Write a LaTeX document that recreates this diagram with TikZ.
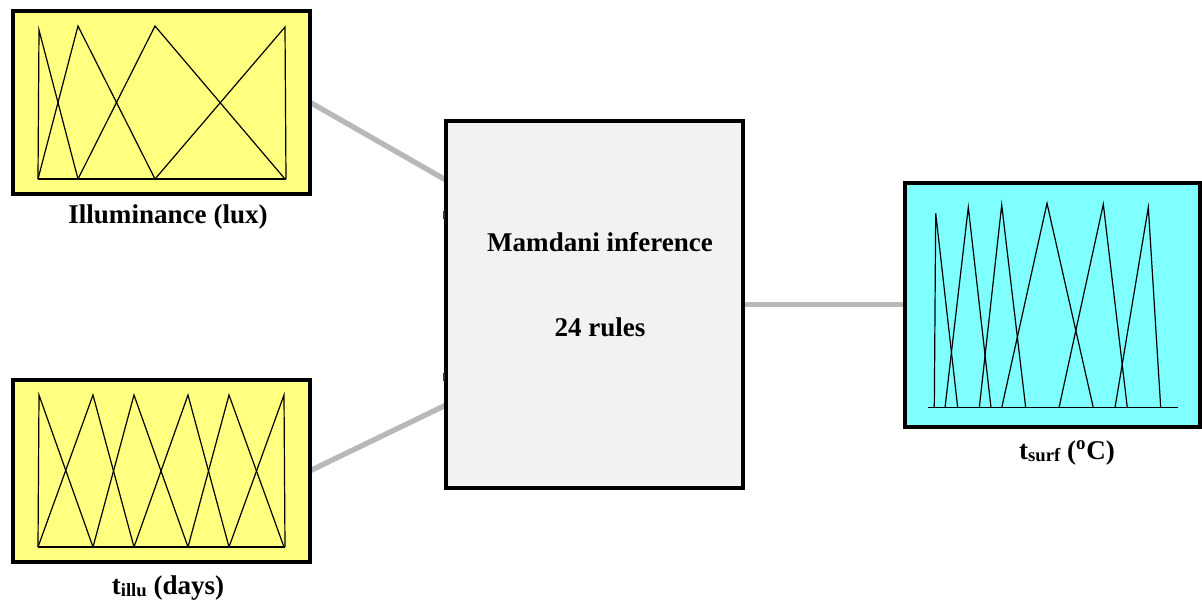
\documentclass[tikz,border=0pt]{standalone}
\usepackage{fontspec}
\setmainfont{Liberation Serif}
\usetikzlibrary{calc,backgrounds}
\definecolor{fillyellow}{HTML}{FFFF80}
\definecolor{fillcyan}{HTML}{80FFFF}
\definecolor{fillgray}{HTML}{F2F2F2}
\definecolor{linkgray}{HTML}{B8B8B8}
\begin{document}
\begin{tikzpicture}[x=0.75pt,y=-0.75pt,
  box/.style={draw=black,line width=3pt,inner sep=0pt,outer sep=0pt},
  mf/.style={line width=0.9pt,line join=miter},
  link/.style={draw=linkgray,line width=4pt},
  port/.style={line width=1.5pt,draw=black!80},
  lab/.style={font=\fontsize{20.3}{24}\selectfont\bfseries,inner sep=0pt}]
\useasboundingbox (0,0) rectangle (1202,604);

% boxes
\node[box,fill=fillyellow,minimum width=222.75pt,minimum height=137.25pt] (illum) at (161,102) {};
\node[box,fill=fillyellow,minimum width=222.75pt,minimum height=136.5pt] (tillu) at (161,471) {};
\node[box,fill=fillgray,minimum width=222.75pt,minimum height=275.25pt] (mam) at (594.5,304.5) {};
\node[box,fill=fillcyan,minimum width=221.25pt,minimum height=183pt] (tsurf) at (1052.5,304.5) {};

% texts
\node[lab] (t1) at (600,242) {Mamdani inference};
\node[lab] (t2) at (600,327) {24 rules};
\node[lab] (lab1) at (168,217) {Illuminance (lux)};
\node[lab] (lab2) at (168,588) {t\raisebox{-1.5pt}{\fontsize{14}{14}\selectfont illu} (days)};
\node[lab] (lab3) at (1067,453) {t\raisebox{-1.5pt}{\fontsize{14}{14}\selectfont surf} (\textsuperscript{o}C)};

% connectors
\coordinate (in1) at ($(mam.north west)!0.161!(mam.south west)$);
\coordinate (in2) at ($(mam.north west)!0.774!(mam.south west)$);
\begin{scope}[on background layer]
\draw[link] (illum.east) -- (in1);
\draw[link] (tillu.east) -- (in2);
\draw[link] (mam.east) -- (tsurf.west);
\end{scope}

% port stubs
\coordinate (p1) at ($(mam.north west)!0.256!(mam.south west)$);
\coordinate (p2) at ($(mam.north west)!0.698!(mam.south west)$);
\draw[port] ($(p1)+(-2.5,-4)$) -- ($(p1)+(-2.5,4)$);
\draw[port] ($(p2)+(-2.5,-4)$) -- ($(p2)+(-2.5,4)$);

% membership functions: Illuminance
\draw[mf] (38,179) -- (286,179);
\draw[mf] (38,179) -- (39,30) -- (78,179);
\draw[mf] (38,179) -- (78,26) -- (155,179);
\draw[mf] (78,179) -- (155,26) -- (285,179);
\draw[mf] (155,179) -- (285,27) -- (286,179);

% membership functions: t_illu
\draw[mf] (38,547) -- (285,547);
\draw[mf] (38,547) -- (39,395) -- (93,547);
\draw[mf] (38,547) -- (93,395) -- (134,547);
\draw[mf] (93,547) -- (134,395) -- (188,547);
\draw[mf] (134,547) -- (188,395) -- (229,547);
\draw[mf] (188,547) -- (229,395) -- (284,547);
\draw[mf] (229,547) -- (284,395) -- (285,547);

% membership functions: t_surf
\draw[mf] (928.3,407.7) -- (1177.7,407.7);
\draw[mf] (934.3,407.7) -- (935.7,213.3) -- (957.7,407.7);
\draw[mf] (945,407.7) -- (968.3,207.3) -- (991,407.7);
\draw[mf] (979.3,407.7) -- (1001.7,205) -- (1025.7,407.7);
\draw[mf] (1001.7,407.7) -- (1047,203.3) -- (1093.3,407.7);
\draw[mf] (1059,407.7) -- (1103.3,204.3) -- (1127.3,407.7);
\draw[mf] (1115,407.7) -- (1148.3,207.3) -- (1160.7,407.7);
\end{tikzpicture}
\end{document}
